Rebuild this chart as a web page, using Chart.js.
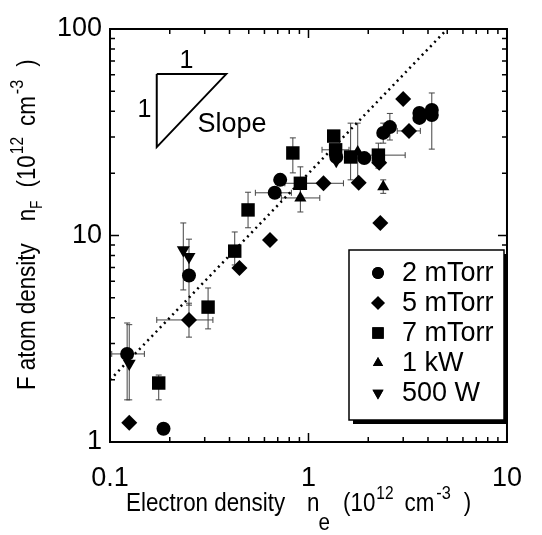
<!DOCTYPE html>
<html>
<head>
<meta charset="utf-8">
<script src="https://cdn.jsdelivr.net/npm/chart.js@4.4.1/dist/chart.umd.min.js"></script>
<style>
  html, body { margin: 0; padding: 0; background: #fff; }
  #wrap { width: 542px; height: 535px; position: relative; }
</style>
</head>
<body>
<div id="wrap"><canvas id="chart"></canvas></div>
<script>
// axis ranges and tick labels
const xTicks = [0.1, 1, 10]
const yTicks = [1, 10, 100]

// 2 mTorr (circles)
const mt2X = [0.122, 0.186, 0.25, 0.676, 0.72, 1.38, 1.91, 2.38, 2.57, 3.62, 3.62, 4.18, 4.18]
const mt2Y = [2.67, 1.16, 6.4, 16.1, 18.6, 24.0, 23.7, 31.4, 33.5, 37.1, 39.2, 38.3, 40.5]
const mt2ErrY = [[1.6, 3.77], null, [4.6, 8.0], null, null, null, null, [28, 35], [29, 39], null, null, [26.2, 49], null]
const mt2ErrX = [[0.102, 0.149], null, null, [0.54, 0.82], null, null, null, null, null, null, null, null, null]

// 5 mTorr (diamonds)
const mt5X = [0.125, 0.25, 0.449, 0.64, 1.19, 1.79, 2.27, 2.3, 3.0, 3.21]
const mt5Y = [1.24, 3.9, 6.96, 9.5, 17.9, 18.0, 22.5, 11.5, 45.8, 32.1]
const mt5ErrY = [null, [3.22, 4.7], null, null, null, null, null, null, null, null]
const mt5ErrX = [null, [0.172, 0.33], null, null, [0.95, 1.5], null, null, null, null, [2.8, 3.66]]

// 7 mTorr (squares)
const mt7X = [0.176, 0.312, 0.425, 0.496, 0.834, 0.91, 1.34, 1.37, 1.63, 2.25]
const mt7Y = [1.93, 4.5, 8.4, 13.3, 25.1, 17.9, 30.3, 26.0, 24.0, 24.5]
const mt7ErrY = [[1.6, 2.11], [3.53, 5.57], [7.2, 10.4], [10.9, 16.2], [20.1, 29.7], [15.5, 21.5], null, null, [18.6, 35], [21.2, 28]]
const mt7ErrX = [null, null, null, null, null, [0.76, 1.14], null, [1.17, 1.6], null, [1.65, 3.07]]

// 1 kW (up triangles)
const kw1X = [0.91, 1.77, 2.38]
const kw1Y = [15.2, 25.4, 17.2]
const kw1ErrY = [[13.0, 17.5], [18.3, 35], [16.0, 18.6]]
const kw1ErrX = [[0.73, 1.14], null, null]

// 500 W (down triangles)
const w500X = [0.125, 0.234, 0.25, 1.38]
const w500Y = [2.4, 8.5, 7.9, 23.0]
const w500ErrY = [[1.6, 3.7], [5.45, 11.5], [6.5, 9.6], null]
const w500ErrX = [null, null, null, null]

// dotted guide line n_F = 20 n_e
const guideX = [0.1, 4.9]
const guideY = [2.0, 98]

// slope triangle
const slopeX = [0.172, 0.385, 0.172, 0.172]
const slopeY = [60.5, 60.5, 26.8, 60.5]

function pts(xs, ys) {
	return xs.map((x, i) => ({ x: x, y: ys[i] }))
}

const FONT = "'Liberation Sans', Arial, sans-serif"

function markerSet(label, xs, ys, ex, ey, style, radius, rotation) {
	return {
		label: label,
		data: pts(xs, ys),
		errX: ex,
		errY: ey,
		pointStyle: style,
		pointRadius: radius,
		pointRotation: rotation || 0,
		backgroundColor: '#000',
		borderColor: '#000',
		borderWidth: 0,
		showLine: false,
		order: 1
	}
}

// draws error bars from the errX / errY arrays of each dataset
const errorBars = {
	id: 'errorBars',
	beforeDatasetsDraw(chart) {
		const ctx = chart.ctx
		const xs = chart.scales.x, ys = chart.scales.y
		ctx.save()
		ctx.strokeStyle = '#444'
		ctx.lineWidth = 1
		chart.data.datasets.forEach(ds => {
			if (!ds.errX) return
			ds.data.forEach((p, i) => {
				const px = xs.getPixelForValue(p.x), py = ys.getPixelForValue(p.y)
				const ey = ds.errY[i], ex = ds.errX[i]
				ctx.beginPath()
				if (ey) {
					const a = ys.getPixelForValue(ey[0]), b = ys.getPixelForValue(ey[1])
					ctx.moveTo(px, a); ctx.lineTo(px, b)
					ctx.moveTo(px - 3, a); ctx.lineTo(px + 3, a)
					ctx.moveTo(px - 3, b); ctx.lineTo(px + 3, b)
				}
				if (ex) {
					const a = xs.getPixelForValue(ex[0]), b = xs.getPixelForValue(ex[1])
					ctx.moveTo(a, py); ctx.lineTo(b, py)
					ctx.moveTo(a, py - 3); ctx.lineTo(a, py + 3)
					ctx.moveTo(b, py - 3); ctx.lineTo(b, py + 3)
				}
				ctx.stroke()
			})
		})
		ctx.restore()
	}
}

// frame with inward log ticks on all four sides
const frame = {
	id: 'frame',
	afterDraw(chart) {
		const ctx = chart.ctx
		const a = chart.chartArea
		const xs = chart.scales.x, ys = chart.scales.y
		ctx.save()
		ctx.strokeStyle = '#000'
		ctx.lineWidth = 2
		ctx.strokeRect(a.left, a.top, a.right - a.left, a.bottom - a.top)
		ctx.lineWidth = 1.5
		ctx.beginPath()
		for (let d = 0.1; d < 10; d *= 10) {
			for (let k = 1; k <= 10; k++) {
				const v = d * k
				const len = (k === 1 || k === 10) ? 9 : 5
				const px = xs.getPixelForValue(v)
				ctx.moveTo(px, a.bottom); ctx.lineTo(px, a.bottom - len)
				ctx.moveTo(px, a.top); ctx.lineTo(px, a.top + len)
			}
		}
		for (let d = 1; d < 100; d *= 10) {
			for (let k = 1; k <= 10; k++) {
				const v = d * k
				const len = (k === 1 || k === 10) ? 9 : 5
				const py = ys.getPixelForValue(v)
				ctx.moveTo(a.left, py); ctx.lineTo(a.left + len, py)
				ctx.moveTo(a.right, py); ctx.lineTo(a.right - len, py)
			}
		}
		ctx.stroke()
		ctx.restore()
	}
}

// one line of text with sub/superscripts, squeezed horizontally
function richText(ctx, parts, sx) {
	let cx = 0
	parts.forEach(p => {
		ctx.font = p.size + 'px ' + FONT
		cx += p.gap
		ctx.save()
		ctx.translate(cx, p.dy)
		ctx.scale(sx, 1)
		ctx.fillText(p.t, 0, 0)
		ctx.restore()
		cx += ctx.measureText(p.t).width * sx
	})
}

const titleParts = (main, sub) => [
	{ t: main, gap: 0, dy: 0, size: 26 },
	{ t: 'n', gap: 22, dy: 0, size: 26 },
	sub,
	{ t: '(10', gap: 13, dy: 0, size: 26 },
	{ t: '12', gap: 1, dy: -12, size: 18 },
	{ t: 'cm', gap: 11, dy: 0, size: 26 },
	{ t: '-3', gap: 2, dy: -12, size: 19 },
	{ t: ')', gap: 13, dy: 0, size: 26 }
]

const labels = {
	id: 'labels',
	afterDraw(chart) {
		const ctx = chart.ctx
		const a = chart.chartArea
		const xs = chart.scales.x, ys = chart.scales.y
		ctx.save()
		ctx.fillStyle = '#000'
		ctx.textBaseline = 'alphabetic'

		// slope annotation
		ctx.font = '25px ' + FONT
		ctx.textAlign = 'center'
		ctx.fillText('1', xs.getPixelForValue(0.243), ys.getPixelForValue(65))
		ctx.fillText('1', xs.getPixelForValue(0.149), ys.getPixelForValue(37.5))
		ctx.textAlign = 'left'
		ctx.font = '27px ' + FONT
		ctx.fillText('Slope', xs.getPixelForValue(0.276), ys.getPixelForValue(31.7))

		// x title
		ctx.save()
		ctx.translate(a.left + 16, a.bottom + 69)
		richText(ctx, titleParts('Electron density', { t: 'e', gap: -1, dy: 19, size: 24 }), 0.86)
		ctx.restore()

		// y title
		ctx.save()
		ctx.translate(a.left - 75, a.top + 361)
		ctx.rotate(-Math.PI / 2)
		richText(ctx, titleParts('F atom density', { t: 'F', gap: 0, dy: 7, size: 16 }), 0.86)
		ctx.restore()

		// legend box with shadow
		const lx = a.left + 239, ly = a.top + 221, lw = 155, lh = 170
		ctx.fillStyle = '#000'
		ctx.fillRect(lx + 4, ly + 4, lw, lh)
		ctx.fillStyle = '#fff'
		ctx.fillRect(lx, ly, lw, lh)
		ctx.strokeStyle = '#000'
		ctx.lineWidth = 1.5
		ctx.strokeRect(lx, ly, lw, lh)
		ctx.fillStyle = '#000'
		ctx.font = '27px ' + FONT
		ctx.textAlign = 'left'
		ctx.textBaseline = 'middle'
		const sets = chart.data.datasets.filter(ds => ds.errX)
		sets.forEach((ds, i) => {
			const cy = ly + 23 + i * 30
			Chart.helpers.drawPoint(ctx, {
				pointStyle: ds.pointStyle,
				radius: ds.pointRadius * 0.85,
				rotation: ds.pointRotation,
				borderWidth: 0
			}, lx + 29, cy)
			ctx.fill()
			ctx.fillText(ds.label, lx + 53, cy + 1)
		})
		ctx.restore()
	}
}

new Chart(document.getElementById('chart'), {
	type: 'scatter',
	data: {
		datasets: [
			markerSet('2 mTorr', mt2X, mt2Y, mt2ErrX, mt2ErrY, 'circle', 7),
			markerSet('5 mTorr', mt5X, mt5Y, mt5ErrX, mt5ErrY, 'rectRot', 8),
			markerSet('7 mTorr', mt7X, mt7Y, mt7ErrX, mt7ErrY, 'rect', 9.5),
			markerSet('1 kW', kw1X, kw1Y, kw1ErrX, kw1ErrY, 'triangle', 7),
			markerSet('500 W', w500X, w500Y, w500ErrX, w500ErrY, 'triangle', 7.5, 180),
			{
				label: 'guide',
				data: pts(guideX, guideY),
				showLine: true,
				borderColor: '#000',
				borderWidth: 2.5,
				borderDash: [2, 4],
				pointRadius: 0,
				order: 2
			},
			{
				label: 'slope',
				data: pts(slopeX, slopeY),
				showLine: true,
				borderColor: '#000',
				borderWidth: 2,
				pointRadius: 0,
				order: 2
			}
		]
	},
	options: {
		responsive: true,
		maintainAspectRatio: false,
		animation: false,
		layout: { padding: { top: 29, right: 15, left: 0, bottom: 0 } },
		plugins: {
			legend: { display: false },
			tooltip: { enabled: false }
		},
		scales: {
			x: {
				type: 'logarithmic',
				min: xTicks[0],
				max: xTicks[xTicks.length - 1],
				afterBuildTicks: s => { s.ticks = xTicks.map(v => ({ value: v })) },
				afterFit: s => { s.height = 93 },
				grid: { display: false, drawTicks: false },
				border: { display: false },
				ticks: {
					color: '#000',
					font: { family: FONT, size: 27 },
					padding: 20,
					maxRotation: 0,
					callback: v => String(v)
				}
			},
			y: {
				type: 'logarithmic',
				min: yTicks[0],
				max: yTicks[yTicks.length - 1],
				afterBuildTicks: s => { s.ticks = yTicks.map(v => ({ value: v })) },
				afterFit: s => { s.width = 110 },
				grid: { display: false, drawTicks: false },
				border: { display: false },
				ticks: {
					color: '#000',
					font: { family: FONT, size: 27 },
					padding: 8,
					callback: v => String(v)
				}
			}
		}
	},
	plugins: [errorBars, frame, labels]
})
</script>
</body>
</html>
